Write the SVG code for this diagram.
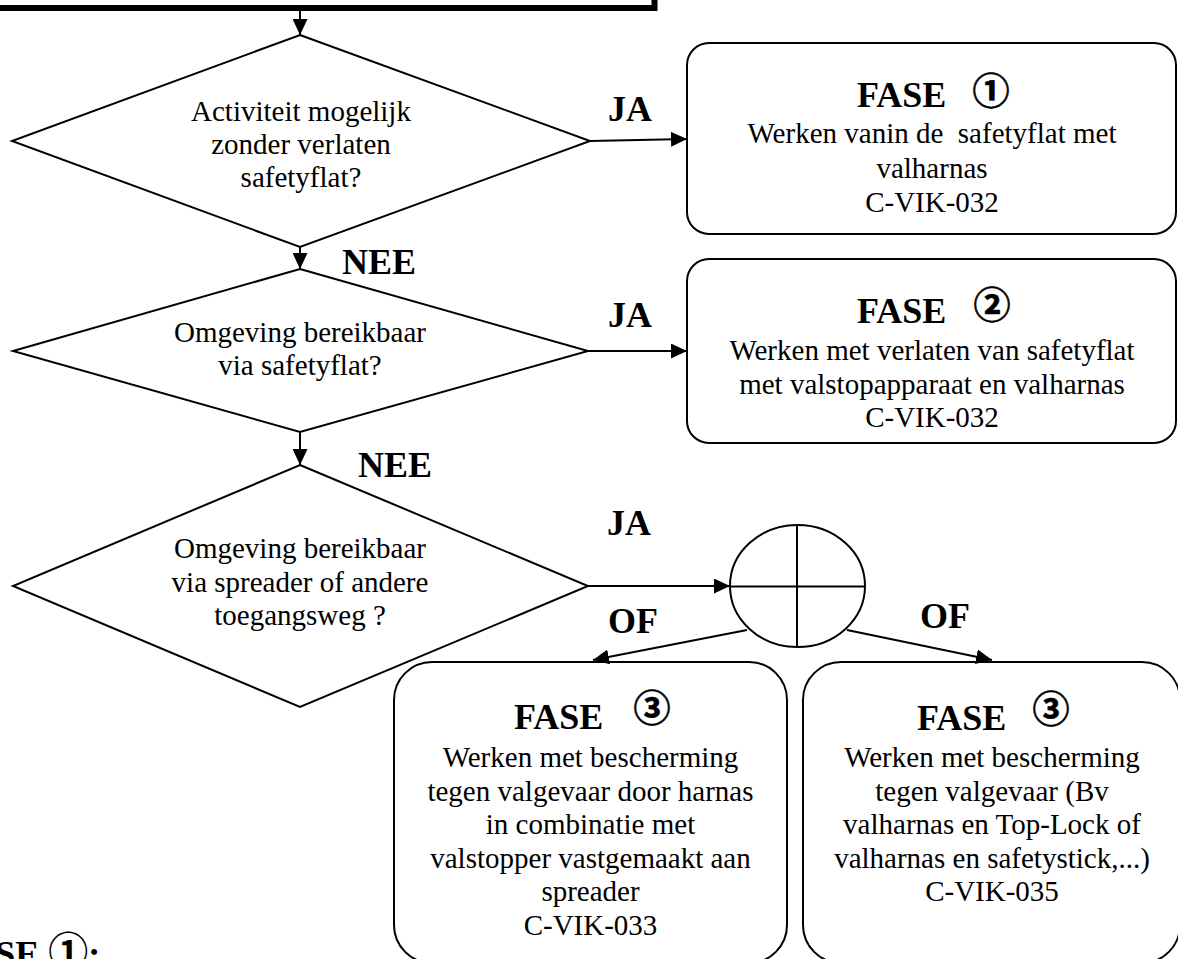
<svg xmlns="http://www.w3.org/2000/svg" width="1178" height="959" viewBox="0 0 1178 959">
<style>
.shape{fill:#fff;stroke:#000;stroke-width:2}
.conn{fill:none;stroke:#000;stroke-width:2}
.t{font-family:"Liberation Serif","Times New Roman",serif;font-size:29px;fill:#000;text-anchor:middle}
.b{font-family:"Liberation Serif","Times New Roman",serif;font-size:36px;font-weight:bold;fill:#000}
.c{font-family:"Noto Sans CJK JP","DejaVu Sans",sans-serif;font-size:37px;font-weight:bold;fill:#000;stroke:#000;stroke-width:0.7;text-anchor:middle;dominant-baseline:central}
</style>
<defs>
<marker id="ah" markerUnits="userSpaceOnUse" markerWidth="16" markerHeight="15" refX="16" refY="7.5" orient="auto">
<path d="M0,0 L16,7.5 L0,15 z" fill="#000"/>
</marker>
</defs>
<rect width="1178" height="959" fill="#fff"/>

<g id="start-box">
<rect x="-20" y="-30" width="674.5" height="38" fill="#fff" stroke="#000" stroke-width="6"/>
</g>

<g id="decision1">
<polygon class="shape" points="300,35 590,141 300,247 12,141"/>
<text class="t" x="301" y="121">Activiteit mogelijk</text>
<text class="t" x="301" y="154">zonder verlaten</text>
<text class="t" x="301" y="187">safetyflat?</text>
</g>

<g id="decision2">
<polygon class="shape" points="300,269 588,351 300,432 13,351"/>
<text class="t" x="300" y="342">Omgeving bereikbaar</text>
<text class="t" x="300" y="375">via safetyflat?</text>
</g>

<g id="decision3">
<polygon class="shape" points="300,465 588,586 300,707 13,586"/>
<text class="t" x="300" y="558">Omgeving bereikbaar</text>
<text class="t" x="300" y="591.5">via spreader of andere</text>
<text class="t" x="300" y="625">toegangsweg ?</text>
</g>

<g id="fase1">
<rect class="shape" x="687" y="43" width="489" height="191" rx="22" ry="22"/>
<text class="b" x="857" y="107">FASE</text>
<text class="c" x="991" y="89">①</text>
<text class="t" x="932" y="143" xml:space="preserve">Werken vanin de  safetyflat met</text>
<text class="t" x="932" y="177.5">valharnas</text>
<text class="t" x="932" y="212">C-VIK-032</text>
</g>

<g id="fase2">
<rect class="shape" x="687" y="259" width="489" height="184" rx="22" ry="22"/>
<text class="b" x="857" y="323">FASE</text>
<text class="c" x="992" y="303">②</text>
<text class="t" x="932" y="360">Werken met verlaten van safetyflat</text>
<text class="t" x="932" y="393.5">met valstopapparaat en valharnas</text>
<text class="t" x="932" y="427">C-VIK-032</text>
</g>

<g id="merge">
<ellipse class="shape" cx="797.5" cy="586" rx="67.5" ry="61"/>
<line class="conn" x1="730" y1="586.5" x2="865" y2="586.5"/>
<line class="conn" x1="797" y1="525" x2="797" y2="647"/>
</g>

<g id="fase3a">
<rect class="shape" x="394" y="662" width="393" height="301" rx="38" ry="38"/>
<text class="b" x="514" y="729">FASE</text>
<text class="c" x="652" y="706">③</text>
<text class="t" x="590.5" y="767">Werken met bescherming</text>
<text class="t" x="590.5" y="800.6">tegen valgevaar door harnas</text>
<text class="t" x="590.5" y="834.2">in combinatie met</text>
<text class="t" x="590.5" y="867.8">valstopper vastgemaakt aan</text>
<text class="t" x="590.5" y="901.4">spreader</text>
<text class="t" x="590.5" y="935">C-VIK-033</text>
</g>

<g id="fase3b">
<rect class="shape" x="803" y="662" width="377" height="301" rx="38" ry="38"/>
<text class="b" x="917" y="730">FASE</text>
<text class="c" x="1051" y="707">③</text>
<text class="t" x="992" y="767">Werken met bescherming</text>
<text class="t" x="992" y="800.6">tegen valgevaar (Bv</text>
<text class="t" x="992" y="834.2">valharnas en Top-Lock of</text>
<text class="t" x="992" y="867.8">valharnas en safetystick,...)</text>
<text class="t" x="992" y="901.4">C-VIK-035</text>
</g>

<g id="connectors">
<line class="conn" x1="300" y1="11" x2="300" y2="35" marker-end="url(#ah)"/>
<line class="conn" x1="300" y1="247" x2="300" y2="269" marker-end="url(#ah)"/>
<line class="conn" x1="300" y1="432" x2="300" y2="465" marker-end="url(#ah)"/>
<line class="conn" x1="590" y1="141" x2="687" y2="139" marker-end="url(#ah)"/>
<line class="conn" x1="588" y1="351" x2="687" y2="351" marker-end="url(#ah)"/>
<line class="conn" x1="588" y1="586" x2="730" y2="586" marker-end="url(#ah)"/>
<line class="conn" x1="747" y1="630" x2="593" y2="660" marker-end="url(#ah)"/>
<line class="conn" x1="847" y1="630" x2="992" y2="660" marker-end="url(#ah)"/>
</g>

<g id="labels">
<text class="b" x="608" y="121">JA</text>
<text class="b" x="342" y="274">NEE</text>
<text class="b" x="608" y="327">JA</text>
<text class="b" x="358" y="477">NEE</text>
<text class="b" x="607" y="535">JA</text>
<text class="b" x="608" y="633">OF</text>
<text class="b" x="920" y="628">OF</text>
</g>

<g id="footer">
<text class="b" x="-50" y="966">FASE <tspan font-family="'Noto Sans CJK JP','DejaVu Sans',sans-serif" font-size="40">①</tspan>:</text>
</g>
</svg>
